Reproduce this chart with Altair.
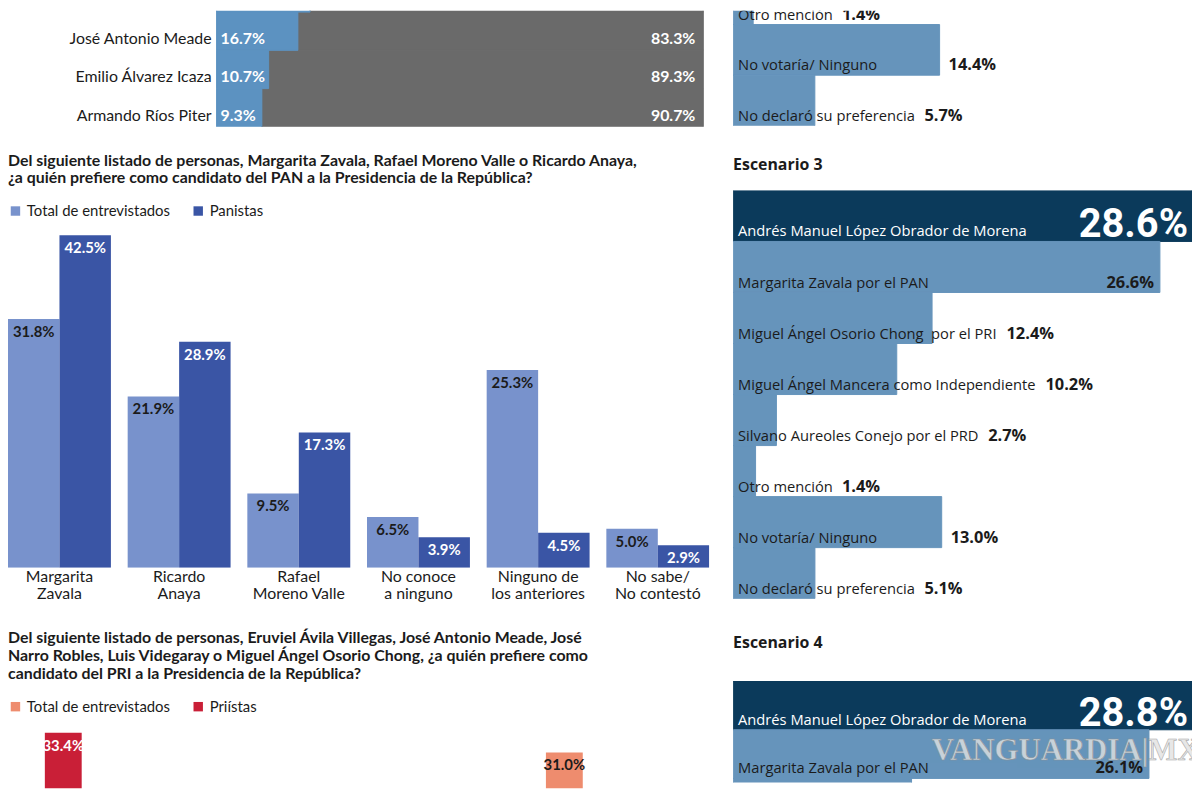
import unicodedata
import altair as alt
import pandas as pd

# ---------------- data ----------------
tl_names = ["José Narro Robles", "José Antonio Meade", "Emilio Álvarez Icaza", "Armando Ríos Piter"]
tl_yes = [19.2, 16.7, 10.7, 9.3]
tl_no = [80.8, 83.3, 89.3, 90.7]

pan_cats = ["Margarita|Zavala", "Ricardo|Anaya", "Rafael|Moreno Valle",
            "No conoce|a ninguno", "Ninguno de|los anteriores", "No sabe/|No contestó"]
pan_series = ["Total de entrevistados", "Panistas"]
pan_total = [31.8, 21.9, 9.5, 6.5, 25.3, 5.0]
pan_panistas = [42.5, 28.9, 17.3, 3.9, 4.5, 2.9]

pri_cats = ["Miguel Ángel Osorio Chong", "José Antonio Meade", "Eruviel Ávila Villegas",
            "José Narro Robles", "Luis Videgaray", "No conoce a ninguno",
            "Ninguno de los anteriores", "No sabe/ No contestó"]
pri_series = ["Total de entrevistados", "Priístas"]
# only the bars that rise into the visible part of the page
pri_vis_cat = ["Miguel Ángel Osorio Chong", "Ninguno de los anteriores"]
pri_vis_series = ["Priístas", "Total de entrevistados"]
pri_vis_vals = [33.4, 31.0]

s2_names = ["Otro mención", "No votaría/ Ninguno", "No declaró su preferencia"]
s2_vals = [1.4, 14.4, 5.7]

s3_names = ["Andrés Manuel López Obrador de Morena", "Margarita Zavala por el PAN",
            "Miguel Ángel Osorio Chong\u00a0 por el PRI", "Miguel Ángel Mancera como Independiente",
            "Silvano Aureoles Conejo por el PRD", "Otro mención", "No votaría/ Ninguno",
            "No declaró su preferencia"]
s3_vals = [28.6, 26.6, 12.4, 10.2, 2.7, 1.4, 13.0, 5.1]

s4_names = ["Andrés Manuel López Obrador de Morena", "Margarita Zavala por el PAN",
            "Miguel Ángel Osorio Chong por el PRI"]
s4_vals = [28.8, 26.1, 11.2]

# ---------------- style ----------------
NARROW = "Lato"
BIG = "Noto Sans Condensed, Noto Sans Display Condensed, Roboto"
SANS = "Open Sans"
INK = "#1b1b1b"
GRAY = "#6a6a6a"
STEEL_TL = "#5c92c1"
STEEL = "#6694bb"
NAVY = "#0b3a5b"
PAN_COLORS = ["#7892cc", "#3a55a5"]
PRI_COLORS = ["#ee8c6e", "#c91f37"]
W_L, W_R = 706, 462

_EM = {'a': .556, 'b': .613, 'c': .48, 'd': .613, 'e': .561, 'f': .336, 'g': .547, 'h': .613,
       'i': .258, 'j': .258, 'k': .525, 'l': .258, 'm': .93, 'n': .613, 'o': .601, 'p': .613,
       'q': .613, 'r': .408, 's': .479, 't': .352, 'u': .613, 'v': .5, 'w': .775, 'x': .523,
       'y': .5, 'z': .468, ' ': .26, '\u00a0': .26, '/': .37, '.': .27, '%': .85,
       'A': .633, 'B': .647, 'C': .631, 'D': .729, 'E': .556, 'I': .279, 'L': .519, 'M': .907,
       'N': .764, 'O': .783, 'P': .602, 'R': .618, 'S': .549, 'Z': .574}


def text_w(s, size, bold=False):
    w = 0.0
    for ch in s:
        b = unicodedata.normalize("NFD", ch)[0]
        if b in _EM:
            e = _EM[b]
        elif b.isdigit():
            e = 0.572
        elif b.isupper():
            e = 0.65
        else:
            e = 0.56
        w += e
    return w * size * (1.07 if bold else 1.0)


def pct(v):
    return f"{v:.1f}%"


# ---------------- top-left: stacked 100% bars ----------------
tl = pd.DataFrame({"name": tl_names, "yes": tl_yes, "no": tl_no})
tl["full"] = tl["yes"] + tl["no"]
tl["yes_t"] = tl["yes"].map(pct)
tl["no_t"] = tl["no"].map(pct)
tl_xs = alt.Scale(domain=[0, 100], range=[210, 700], nice=False)
tl_y = alt.Y("name:N", axis=None, sort=tl_names,
             scale=alt.Scale(domain=tl_names, range=[-37, 117], paddingInner=0, paddingOuter=0))
tlb = alt.Chart(tl)
tl_chart = alt.layer(
    tlb.mark_bar(color=GRAY, stroke=GRAY, strokeWidth=1, clip=True).encode(
        x=alt.X("yes:Q", scale=tl_xs, axis=None), x2="full:Q", y=tl_y),
    tlb.mark_bar(color=STEEL_TL, stroke=STEEL_TL, strokeWidth=1, clip=True).encode(
        x=alt.X("yes:Q", scale=tl_xs, axis=None), x2=alt.datum(0), y=tl_y),
    tlb.mark_text(align="right", baseline="middle", dx=-5, dy=8, font=NARROW, fontSize=16,
                  color=INK, clip=True).encode(
        x=alt.XDatum(0, axis=None), y=tl_y, text="name:N"),
    tlb.mark_text(align="left", baseline="middle", dx=4, dy=8, font=NARROW, fontSize=16,
                  fontWeight="bold", color="white", clip=True).encode(
        x=alt.XDatum(0, axis=None), y=tl_y, text="yes_t:N"),
    tlb.mark_text(align="right", baseline="middle", dx=-8, dy=8, font=NARROW, fontSize=16,
                  fontWeight="bold", color="white", clip=True).encode(
        x=alt.XDatum(100, axis=None), y=tl_y, text="no_t:N"),
).properties(width=W_L, height=117)


# ---------------- grouped bar charts ----------------
def grouped(cats, series, colors, cat_col, ser_col, vals, ydom, height, title, pad_inner,
            show_axis, title_offset):
    df = pd.DataFrame({"cat": cat_col, "serie": ser_col, "val": vals})
    df["t"] = df["val"].map(pct)
    if show_axis:
        ax = alt.Axis(title=None, labelExpr="split(datum.label, '|')", labelAngle=0,
                      domain=False, ticks=False, labelFont=NARROW, labelFontSize=16,
                      labelColor=INK, labelLineHeight=17, labelPadding=1,
                      labelBaseline="top", labelOverlap=False, labelLimit=200)
    else:
        ax = None
    x = alt.X("cat:N", sort=cats, axis=ax,
              scale=alt.Scale(domain=cats, paddingInner=pad_inner, paddingOuter=0))
    xo = alt.XOffset("serie:N", sort=series,
                     scale=alt.Scale(domain=series, paddingInner=0, paddingOuter=0))
    y = alt.Y("val:Q", axis=None, scale=alt.Scale(domain=ydom, nice=False, zero=False))
    color = alt.Color("serie:N", sort=series, scale=alt.Scale(domain=series, range=colors),
                      legend=alt.Legend(orient="top", direction="horizontal", title=None,
                                        symbolType="square", symbolSize=90,
                                        symbolStrokeWidth=0, labelFont=NARROW,
                                        labelFontSize=15, labelColor=INK, columnPadding=20,
                                        offset=6, padding=0, labelOffset=4))
    b = alt.Chart(df)
    return alt.layer(
        b.mark_bar(clip=True).encode(x=x, xOffset=xo, y=y, y2=alt.datum(0), color=color),
        b.transform_filter(alt.datum.serie == series[0]).mark_text(
            baseline="top", dy=6, font=NARROW, fontSize=15, fontWeight="bold", color=INK,
            clip=True).encode(x=x, xOffset=xo, y=y, text="t:N"),
        b.transform_filter(alt.datum.serie == series[1]).mark_text(
            baseline="top", dy=6, font=NARROW, fontSize=15, fontWeight="bold", color="white",
            clip=True).encode(x=x, xOffset=xo, y=y, text="t:N"),
    ).properties(
        width=W_L, height=height,
        title=alt.TitleParams(title, anchor="start", font=NARROW, fontSize=16,
                              fontWeight="bold", color=INK, lineHeight=18,
                              offset=title_offset),
    )


pan_chart = grouped(
    pan_cats, pan_series, PAN_COLORS,
    pan_cats * 2, [pan_series[0]] * len(pan_cats) + [pan_series[1]] * len(pan_cats),
    pan_total + pan_panistas, [0, 43.8], 345,
    ["Del siguiente listado de personas, Margarita Zavala, Rafael Moreno Valle o Ricardo Anaya,",
     "¿a quién prefiere como candidato del PAN a la Presidencia de la República?"],
    0.14, True, 17)

pri_chart = grouped(
    pri_cats, pri_series, PRI_COLORS,
    pri_vis_cat, pri_vis_series, pri_vis_vals, [26.68, 34.84], 68,
    ["Del siguiente listado de personas, Eruviel Ávila Villegas, José Antonio Meade, José",
     "Narro Robles, Luis Videgaray o Miguel Ángel Osorio Chong, ¿a quién prefiere como",
     "candidato del PRI a la Presidencia de la República?"],
    0.178, False, 17)


# ---------------- scenario bars (right column) ----------------
def scenario(names, vals, xmax, rng, height, lead, title=None, title_offset=18, watermark=False):
    pxper = W_R / xmax
    band = (rng[1] - rng[0]) / len(names)
    rows = []
    for i, (n, v) in enumerate(zip(names, vals)):
        t = pct(v)
        is_lead = lead and i == 0
        lab_end = 5 + text_w(n, 14.8)
        vx_px = max(v * pxper, lab_end)
        fits = vx_px + 9 + text_w(t, 16.5, True) <= W_R - 2
        kind = "lead" if is_lead else ("out" if fits else "in")
        rows.append(dict(name=n, val=v, t=t, vx=vx_px / pxper, kind=kind,
                         grp="lead" if is_lead else "rest"))
    df = pd.DataFrame(rows)
    xs = alt.Scale(domain=[0, xmax], range=[0, W_R], nice=False, zero=False)
    y = alt.Y("name:N", axis=None, sort=names,
              scale=alt.Scale(domain=names, range=rng, paddingInner=0, paddingOuter=0))
    dy = band / 2 - 5
    grp_scale = alt.Scale(domain=["lead", "rest"], range=[NAVY, STEEL])
    b = alt.Chart(df)
    layers = [
        b.mark_bar(clip=True, strokeWidth=1).encode(
            x=alt.X("val:Q", scale=xs, axis=None), x2=alt.datum(0), y=y,
            color=alt.Color("grp:N", scale=grp_scale, legend=None),
            stroke=alt.Stroke("grp:N", scale=grp_scale, legend=None)),
        b.transform_filter(alt.datum.grp == "rest").mark_text(
            align="left", baseline="alphabetic", dx=5, dy=dy, font=SANS, fontSize=14.8,
            color=INK, clip=True).encode(x=alt.XDatum(0, axis=None), y=y, text="name:N"),
        b.transform_filter(alt.datum.grp == "lead").mark_text(
            align="left", baseline="alphabetic", dx=5, dy=dy, font=SANS, fontSize=14.8,
            color="white", clip=True).encode(x=alt.XDatum(0, axis=None), y=y, text="name:N"),
        b.transform_filter(alt.datum.kind == "out").mark_text(
            align="left", baseline="alphabetic", dx=9, dy=dy, font=SANS, fontSize=16.5,
            fontWeight="bold", color=INK, clip=True).encode(
            x=alt.X("vx:Q", axis=None), y=y, text="t:N"),
        b.transform_filter(alt.datum.kind == "in").mark_text(
            align="right", baseline="alphabetic", dx=-6, dy=dy, font=SANS, fontSize=16.5,
            fontWeight="bold", color=INK, clip=True).encode(
            x=alt.X("val:Q", axis=None), y=y, text="t:N"),
        b.transform_filter(alt.datum.kind == "lead").mark_text(
            align="right", baseline="alphabetic", dx=-4, dy=dy + 1, font=BIG, fontSize=40,
            fontWeight="bold", color="white", clip=True).encode(
            x=alt.XDatum(xmax, axis=None), y=y, text="t:N"),
    ]
    if watermark:
        layers.append(
            alt.Chart(pd.DataFrame({"w": ["VANGUARDIA|MX"]})).mark_text(
                align="left", baseline="middle", font="Liberation Serif", fontSize=31,
                fontWeight="bold", color="#e2e2e2", stroke="#8f8f8f", strokeWidth=0.6,
                opacity=0.8, clip=True).encode(
                x=alt.value(200), y=alt.value(70), text="w:N"))
    props = dict(width=W_R, height=height)
    if title:
        props["title"] = alt.TitleParams(title, anchor="start", font=SANS, fontSize=16,
                                         fontWeight="bold", color=INK, offset=title_offset)
    return alt.layer(*layers).properties(**props)


s2_chart = scenario(s2_names, s2_vals, 32.0, [-37, 116], 116, False)
s3_chart = scenario(s3_names, s3_vals, 28.6, [0, 411], 411, True, "Escenario 3", 18)
s4_chart = scenario(s4_names, s4_vals, 28.8, [0, 147], 102, True, "Escenario 4", 30,
                    watermark=True)

IND = dict(color="independent", stroke="independent", x="independent", y="independent",
           xOffset="independent")

left_top = alt.vconcat(tl_chart, pan_chart, spacing=26).resolve_scale(
    **IND).resolve_legend(color="independent")
left = alt.vconcat(left_top, pri_chart, spacing=29).resolve_scale(
    **IND).resolve_legend(color="independent")
right_top = alt.vconcat(s2_chart, s3_chart, spacing=31).resolve_scale(**IND)
right = alt.vconcat(right_top, s4_chart, spacing=37).resolve_scale(**IND)

chart = alt.hconcat(left, right, spacing=24).resolve_scale(**IND).resolve_legend(
    color="independent").properties(padding=0, background="white").configure_view(stroke=None)

chart.save("out.html", embed_options={"renderer": "svg", "actions": False})
